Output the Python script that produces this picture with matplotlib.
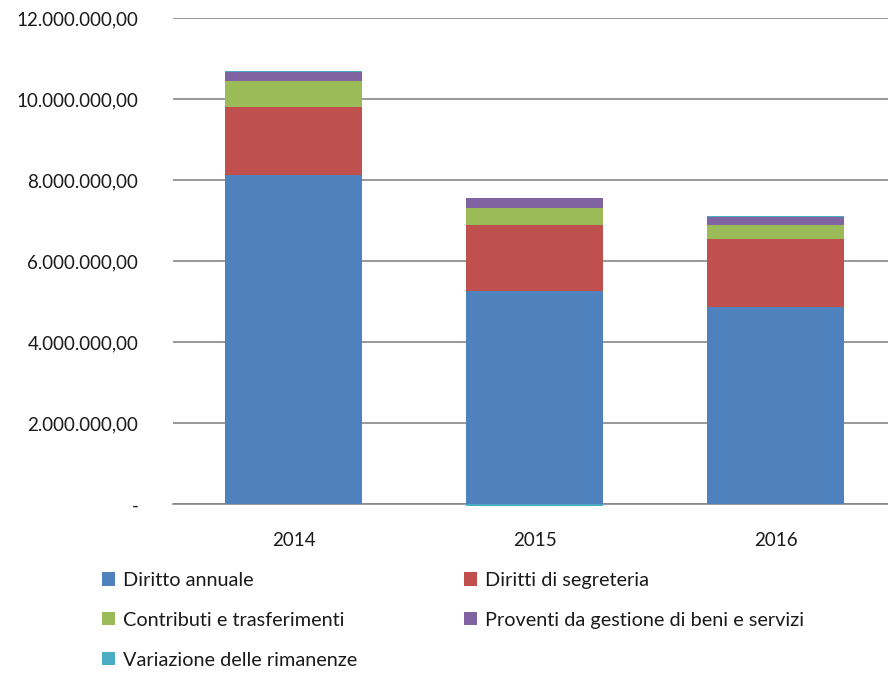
import matplotlib
matplotlib.use("Agg")
import matplotlib.pyplot as plt
import numpy as np

years = ["2014", "2015", "2016"]
series_names = ["Diritto annuale", "Diritti di segreteria", "Contributi e trasferimenti",
                "Proventi da gestione di beni e servizi", "Variazione delle rimanenze"]
diritto_annuale = [8130000, 5270000, 4870000]
diritti_segreteria = [1680000, 1630000, 1680000]
contributi = [650000, 420000, 350000]
proventi = [220000, 250000, 200000]
variazione = [12000, -30000, 12000]
colors = ["#4F81BD", "#C0504D", "#9BBB59", "#8064A2", "#4BACC6"]
yticks = [0, 2000000, 4000000, 6000000, 8000000, 10000000, 12000000]

plt.rcParams['font.family'] = ['Lato', 'DejaVu Sans']

fig = plt.figure(figsize=(8.88, 6.76), dpi=100)
ax = fig.add_axes([173/888, 171.7/676, 1 - 173/888, (504.3-18.3)/676])

x = np.arange(len(years))
w = 0.57
pos_bottom = np.zeros(3)
neg_bottom = np.zeros(3)
handles = []
for vals, name, c in zip([diritto_annuale, diritti_segreteria, contributi, proventi, variazione],
                         series_names, colors):
    vals = np.array(vals, dtype=float)
    bottoms = np.where(vals >= 0, pos_bottom, neg_bottom)
    b = ax.bar(x, vals, w, bottom=bottoms, color=c, label=name, zorder=3, clip_on=False)
    handles.append(b)
    pos_bottom = pos_bottom + np.where(vals >= 0, vals, 0)
    neg_bottom = neg_bottom + np.where(vals < 0, vals, 0)

ax.set_xlim(-0.5, 2.5 - 8/241)
ax.set_ylim(0, 12000000)
ax.set_yticks(yticks)

def fmt(v):
    if v == 0:
        return "-"
    s = f"{int(v):,}".replace(",", ".")
    return s + ",00"

ax.set_yticklabels([fmt(v) for v in yticks])
ax.set_xticks(x)
ax.set_xticklabels(years)
ax.yaxis.grid(True, color="#868686", linewidth=1.2, zorder=0)
ax.set_axisbelow(True)
for s in ["left", "right", "top"]:
    ax.spines[s].set_visible(False)
ax.spines["bottom"].set_color("#868686")
ax.spines["bottom"].set_linewidth(1.2)
ax.tick_params(axis="y", length=0, pad=25, labelsize=13.5, labelcolor="#1a1a1a")
ax.tick_params(axis="x", length=0, pad=20, labelsize=13.5, labelcolor="#1a1a1a")

leg_kw = dict(frameon=False, fontsize=14.3, handlelength=0.65, handleheight=0.65,
              handletextpad=0.4, labelspacing=1.15, borderpad=0, borderaxespad=0,
              labelcolor="#1a1a1a")
l1 = fig.legend([handles[0], handles[2], handles[4]],
                [series_names[0], series_names[2], series_names[4]],
                loc="upper left", bbox_to_anchor=(102/888, 1 - 572/676), **leg_kw)
l2 = fig.legend([handles[1], handles[3]],
                [series_names[1], series_names[3]],
                loc="upper left", bbox_to_anchor=(464/888, 1 - 572/676), **leg_kw)

fig.savefig("out.png", dpi=100)
